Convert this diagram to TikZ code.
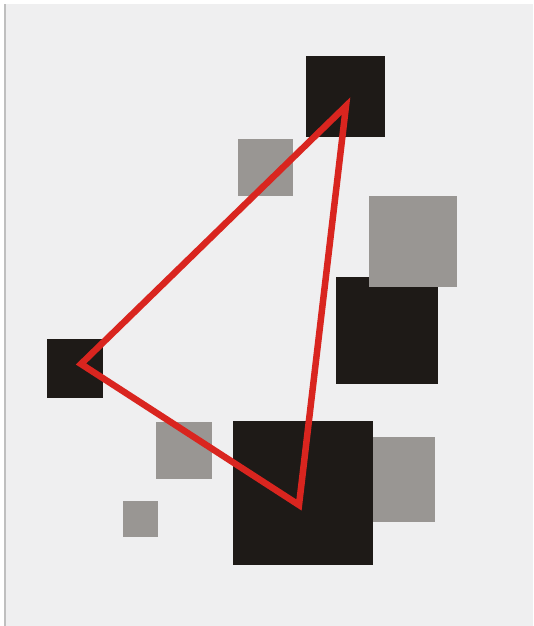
\documentclass[tikz,border=0pt]{standalone}
\begin{document}
\definecolor{paper}{RGB}{239,239,240}
\definecolor{darkbox}{RGB}{30,26,23}
\definecolor{greybox}{RGB}{153,150,147}
\definecolor{redline}{RGB}{217,37,31}
\begin{tikzpicture}[x=1pt,y=-1pt,
    dark/.style={fill=darkbox},
    grey/.style={fill=greybox}]
    \useasboundingbox (0,0) rectangle (533,626);
    \fill [paper] (6,4) rectangle (533,626);
    \fill [black!25] (4,4) rectangle (6,626);
    % squares
    \fill [grey] (238,139) rectangle (293,196);
    \fill [dark] (306,56) rectangle (385,137);
    \fill [dark] (336,277) rectangle (438,384);
    \fill [grey] (369,196) rectangle (457,287);
    \fill [dark] (47,339) rectangle (103,398);
    \fill [grey] (156,422) rectangle (212,479);
    \fill [grey] (123,501) rectangle (158,537);
    \fill [dark] (233,421) rectangle (373,565);
    \fill [grey] (373,437) rectangle (435,522);
    % triangle
    \draw [redline, line width=6.5pt] (346,106) -- (81,364) -- (299,505) -- cycle;
\end{tikzpicture}
\end{document}
